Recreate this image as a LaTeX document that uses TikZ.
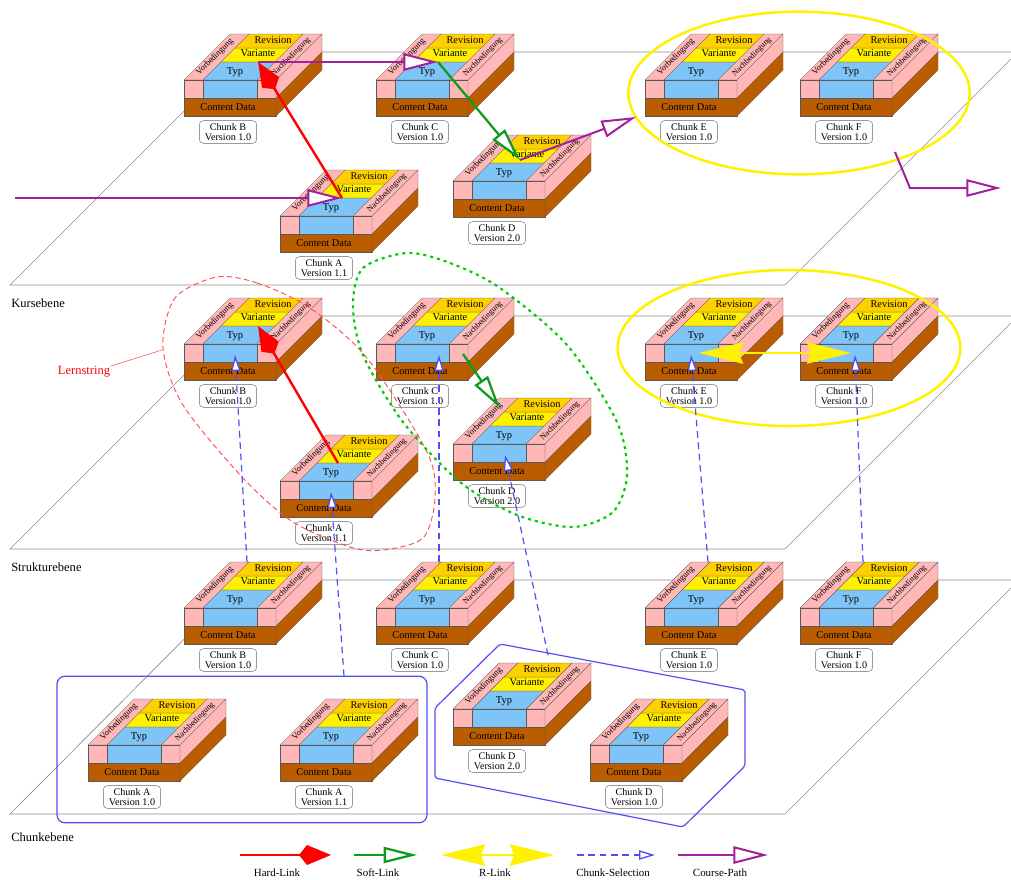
\documentclass[tikz,border=0pt]{standalone}
\usepackage{fontspec}
\setmainfont{Liberation Serif}
\usetikzlibrary{arrows.meta,calc,shapes.geometric}
\definecolor{chpink}{HTML}{FFB7B7}
\definecolor{chblue}{HTML}{7FC4F7}
\definecolor{chyellow}{HTML}{FFF000}
\definecolor{chgold}{HTML}{FFD000}
\definecolor{chbrown}{HTML}{BA5C00}
\definecolor{linkpurple}{HTML}{A020A0}
\definecolor{linkgreen}{HTML}{109A20}
\definecolor{linkblue}{HTML}{5050F0}
\newcommand{\fsz}[1]{\fontsize{#1}{#1}\selectfont}
\tikzset{
  % baustein
  face/.style={draw=black!65,line width=0.25pt},
  ft/.style={font=\fsz{7.8},inner sep=0pt},
  fr/.style={font=\fsz{6.4},inner sep=0pt,rotate=45},
  chlabel/.style={draw=black!60,line width=0.3pt,rounded corners=3pt,align=center,
                  font=\fsz{7.6},inner sep=0pt,minimum width=43pt,minimum height=17pt},
  % ebenen
  plane/.style={draw=black!45,line width=0.5pt},
  level/.style={font=\fsz{9.4},anchor=west,inner sep=0pt},
  % links
  hardl/.style={draw=red,line width=1.8pt,-{Kite[length=24pt,width=15pt,inset=6pt]}},
  softl/.style={draw=linkgreen,line width=1.7pt,-{Triangle[length=25pt,width=12pt,fill=white]}},
  rlink/.style={draw=yellow,line width=1.7pt,{Stealth[length=33pt,width=16pt,inset=3pt]}-{Stealth[length=33pt,width=16pt,inset=3pt]}},
  chsel/.style={draw=linkblue,line width=0.9pt,dash pattern=on 5pt off 3.5pt,
                -{Triangle[length=12pt,width=7pt,fill=white,line width=1pt]}},
  coursep/.style={draw=linkpurple,line width=1.5pt,-{Triangle[length=26pt,width=13pt,fill=white]}},
  legtext/.style={font=\fsz{8.2},inner sep=0pt},
  % gruppen
  yring/.style={draw=yellow,line width=1.9pt},
  lstring/.style={draw=red!70,line width=0.7pt,dash pattern=on 4pt off 2.5pt},
  gring/.style={draw=green!80!black,line width=1.6pt,dash pattern=on 2.3pt off 3pt},
  bset/.style={draw=linkblue,line width=0.9pt},
}
% #1 name, #2 x, #3 y, #4 chunk, #5 version
\newcommand{\chunk}[5]{%
  \begin{scope}[shift={(#2,#3)}]
    \path[face,fill=chpink] (0,-36) -- (19,-36) -- (65,-82) -- (46,-82) -- cycle;
    \path[face,fill=chpink] (73,-36) -- (92,-36) -- (138,-82) -- (119,-82) -- cycle;
    \path[face,fill=chblue] (19,-36) -- (73,-36) -- (91,-54) -- (37,-54) -- cycle;
    \path[face,fill=chyellow] (37,-54) -- (91,-54) -- (105,-68) -- (51,-68) -- cycle;
    \path[face,fill=chgold] (51,-68) -- (105,-68) -- (119,-82) -- (65,-82) -- cycle;
    \path[face,fill=chpink] (0,-36) rectangle (19,-18);
    \path[face,fill=chblue] (19,-36) rectangle (73,-18);
    \path[face,fill=chpink] (73,-36) rectangle (92,-18);
    \path[face,fill=chbrown] (0,-18) rectangle (92,0);
    \path[face,fill=chpink] (92,-36) -- (138,-82) -- (138,-64) -- (92,-18) -- cycle;
    \path[face,fill=chbrown] (92,-18) -- (138,-64) -- (138,-46) -- (92,0) -- cycle;
    \node[ft] (#1typ) at (51,-44) {Typ};
    \node[ft] (#1var) at (74,-63) {Variante};
    \node[ft] (#1rev) at (89,-76) {Revision};
    \node[ft] (#1cnt) at (44,-9) {Content Data};
    \node[fr] (#1vor) at (31,-59) {Vorbedingung};
    \node[fr,font=\fsz{6.1}] (#1nach) at (107,-59) {Nachbedingung};
    \node[chlabel] (#1lbl) at (44,16) {Chunk #4\\Version #5};
    \coordinate (#1v) at (74,-54);
    \coordinate (#1s) at (51,-25);
    \coordinate (#1t) at (63,-82);
  \end{scope}}
\begin{document}
\begin{tikzpicture}[x=0.75pt,y=-0.75pt]
  \useasboundingbox (0,0) rectangle (1011,879);
  % ebenen
  \draw[plane] (1011,59) -- (785,285) -- (10,285) -- (243,52) -- (1011,52);
  \draw[plane] (1011,323) -- (785,549) -- (10,549) -- (243,316) -- (1011,316);
  \draw[plane] (1011,588) -- (785,814) -- (10,814) -- (243,580) -- (1011,580);
  \node[level] (kurs) at (11,303) {Kursebene};
  \node[level] (struk) at (11,567) {Strukturebene};
  \node[level] (cheb) at (11,837) {Chunkebene};
  % kursebene
  \chunk{kb}{184}{116}{B}{1.0}  \chunk{kc}{376}{116}{C}{1.0}
  \chunk{ke}{645}{116}{E}{1.0}  \chunk{kf}{800}{116}{F}{1.0}
  \chunk{ka}{280}{252}{A}{1.1}  \chunk{kd}{453}{217}{D}{2.0}
  % strukturebene
  \chunk{sb}{184}{380}{B}{1.0}  \chunk{sc}{376}{380}{C}{1.0}
  \chunk{se}{645}{380}{E}{1.0}  \chunk{sf}{800}{380}{F}{1.0}
  \chunk{sa}{280}{517}{A}{1.1}  \chunk{sd}{453}{480}{D}{2.0}
  % chunkebene
  \chunk{cb}{184}{644}{B}{1.0}  \chunk{cc}{376}{644}{C}{1.0}
  \chunk{ce}{645}{644}{E}{1.0}  \chunk{cf}{800}{644}{F}{1.0}
  \chunk{caa}{88}{781}{A}{1.0}  \chunk{cab}{280}{781}{A}{1.1}
  \chunk{cda}{453}{745}{D}{2.0} \chunk{cdb}{590}{781}{D}{1.0}
  % gruppen
  \node[draw,bset,rounded corners=6pt,minimum width=277.5pt,minimum height=110pt,inner sep=0pt]
    (seta) at (242,749.5) {};
  \coordinate (h1) at (500,644); \coordinate (h2) at (745,690);
  \coordinate (h3) at (745,766); \coordinate (h4) at (683,827);
  \coordinate (h5) at (435,778); \coordinate (h6) at (435,708);
  \draw[bset,rounded corners=1.5pt] (h1) -- (h2) -- (h3) -- (h4) -- (h5) -- (h6) -- cycle;
  \node[draw,yring,ellipse,minimum width=256pt,minimum height=122pt,inner sep=0pt] (ringk) at (799,93) {};
  \node[draw,yring,ellipse,minimum width=257pt,minimum height=117pt,inner sep=0pt] (rings) at (789,348) {};
  \draw[lstring] plot[smooth cycle] coordinates {(217,277) (257,283) (310,308) (367,358) (427,452)
    (435,498) (423,538) (383,550) (350,547) (293,522) (243,478) (183,405) (163,348) (175,298)};
  \draw[gring] plot[smooth cycle] coordinates {(407,253) (450,263) (500,288) (567,345) (617,422)
    (627,475) (613,512) (573,527) (517,515) (460,482) (403,422) (363,355) (353,305) (363,268)};
  \coordinate (lsm) at (162,350);
  \node[font=\fsz{9.4},text=red,inner sep=0pt] (lern) at (84,372) {Lernstring};
  \draw[red!70,line width=0.4pt] (lern.north east) -- (lsm);
  % course path
  \coordinate (cin) at (15,198); \coordinate (ka0) at (342,198);
  \coordinate (cout) at (636,117);
  \coordinate (co1) at (895,152); \coordinate (co2) at (910,188); \coordinate (co3) at (1001,188);
  \coordinate (kdv) at (520,160); \coordinate (kcv) at (438,62);
  \draw[hardl] (ka0) -- (kbv);
  \draw[coursep] (cin) -- (ka0);
  \draw[coursep] (kbv) -- (kcv);
  \draw[softl] (kcv) -- (kdv);
  \draw[coursep] (kdv) -- (cout);
  \draw[coursep] (co1) -- (co2) -- (co3);
  % strukturebene links
  \coordinate (sa0) at (338,463); \coordinate (sc0) at (463,354); \coordinate (sdv) at (500,408);
  \draw[hardl] (sa0) -- (sbv);
  \draw[softl] (sc0) -- (sdv);
  \coordinate (rl) at (699,353); \coordinate (rr) at (851,353);
  \draw[rlink] (rl) -- (rr);
  % chunk selection
  \draw[chsel] (cbt) -- (sbs);
  \draw[chsel] (cct) -- ($(scs)+(12,0)$);
  \draw[chsel] (cet) -- ($(ses)+(-5,0)$);
  \draw[chsel] (cft) -- ($(sfs)+(4,0)$);
  \coordinate (sela) at (344,676); \coordinate (seld) at (548,655);
  \draw[chsel] (sela) -- (sas);
  \draw[chsel] (seld) -- ($(sds)+(1,0)$);
  % legende
  \foreach \nm/\st/\xa/\xb/\xt/\txt in {hl/hardl/240/331/277/Hard-Link,sl/softl/354/417/378/Soft-Link,
      rn/rlink/441/554/495/R-Link,cs/chsel/577/655/613/Chunk-Selection,cp/coursep/678/768/720/Course-Path}{
    \coordinate (\nm a) at (\xa,855); \coordinate (\nm b) at (\xb,855);
    \draw[\st] (\nm a) -- (\nm b);
    \node[legtext] (\nm t) at (\xt,873) {\txt};
  }
\end{tikzpicture}
\end{document}
